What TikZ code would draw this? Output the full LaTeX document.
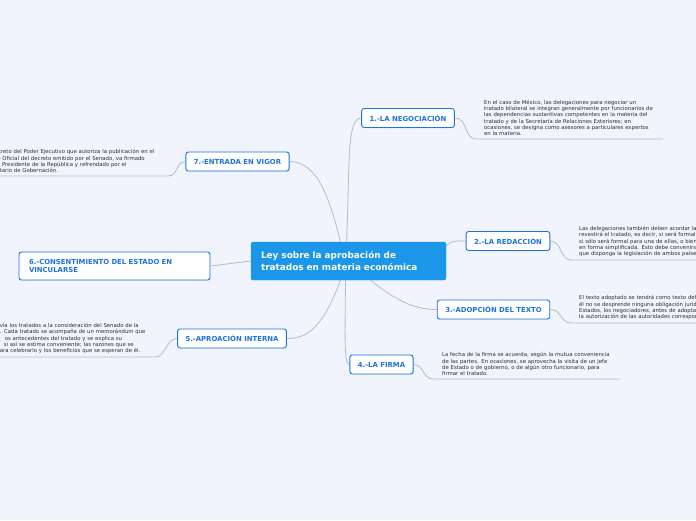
\documentclass[tikz,border=0pt]{standalone}
\usepackage{fontspec}
\setmainfont{DejaVu Sans}
\usetikzlibrary{shadows}
\definecolor{bgpale}{RGB}{241,244,252}
\definecolor{hubblue}{RGB}{27,150,232}
\definecolor{topicblue}{RGB}{28,116,222}
\definecolor{linkgray}{RGB}{184,186,196}
\definecolor{notetext}{RGB}{45,45,55}

\begin{document}
\begin{tikzpicture}[x=1pt,y=-1pt,
    hub/.style={draw=hubblue,fill=hubblue,rounded corners=2pt,text=white,font=\fontsize{8.9}{11.2}\selectfont\bfseries,text width=175pt,align=left,inner xsep=10pt,minimum height=38pt},
    topic/.style={draw=topicblue,line width=0.9pt,fill=white,rounded corners=2.5pt,text=topicblue,font=\fontsize{6.9}{8.4}\selectfont\bfseries,minimum height=19pt,inner xsep=8pt,drop shadow={opacity=0.12,shadow xshift=0.4pt,shadow yshift=-0.9pt}},
    note/.style={text=notetext,font=\fontsize{5.35}{6.3}\selectfont,align=left,inner xsep=8pt,inner ysep=3pt},
    link/.style={draw=linkgray,line width=0.8pt}]
        \fill[bgpale] (0,0) rectangle (696,520);
        \useasboundingbox (0,0) rectangle (696,520);
        % centro
        \node[hub] (ley) at (348.5,261) {Ley sobre la aprobación de\\tratados en materia económica};
        % ramas
        \node[topic] (neg) at (408,118) {1.-LA NEGOCIACIÓN};
        \node[topic] (red) at (508,241) {2.-LA REDACCIÓN};
        \node[topic] (ado) at (493.5,309.5) {3.-ADOPCIÓN DEL TEXTO};
        \node[topic] (fir) at (381.5,364.5) {4.-LA FIRMA};
        \node[topic] (apr) at (232,338.5) {5.-APROACIÓN INTERNA};
        \node[topic,text width=171pt,align=left,inner xsep=10pt,minimum height=28pt] (con) at (114.5,266) {6.-CONSENTIMIENTO DEL ESTADO EN\\VINCULARSE};
        \node[topic] (vig) at (237.5,161.5) {7.-ENTRADA EN VIGOR};
        % notas
        \node[note,anchor=south west,text width=171pt] (tneg) at (476,139) {En el caso de México, las delegaciones para negociar un\\tratado bilateral se integran generalmente por funcionarios de\\las dependencias sustantivas competentes en la materia del\\tratado y de la Secretaría de Relaciones Exteriores; en\\ocasiones, se designa como asesores a particulares expertos\\en la materia.};
        \node[note,anchor=south west,text width=190pt] (tred) at (571,260) {Las delegaciones también deben acordar la forma que\\revestirá el tratado, es decir, si será formal para ambas,\\si sólo será formal para una de ellas, o bien, si se hará\\en forma simplificada. Esto debe convenirse según lo\\que disponga la legislación de ambos países.};
        \node[note,anchor=south west,text width=190pt] (tado) at (571,323) {El texto adoptado se tendrá como texto definitivo, pero de\\él no se desprende ninguna obligación jurídica para los\\Estados, los negociadores, antes de adoptarlo, deben tener\\la autorización de las autoridades correspondientes.};
        \node[note,anchor=south west,text width=170pt] (tfir) at (434,379) {La fecha de la firma se acuerda, según la mutua conveniencia\\de las partes. En ocasiones, se aprovecha la visita de un jefe\\de Estado o de gobierno, o de algún otro funcionario, para\\firmar el tratado.};
        \node[note,anchor=south east,text width=147pt] (tapr) at (155,357) {vía los tratados a la consideración del Senado de la\\. Cada tratado se acompaña de un memorándum que\\\hspace{5pt}os antecedentes del tratado y se explica su\\\hspace{4pt}si así se estima conveniente; las razones que se\\ara celebrarlo y los beneficios que se esperan de él.};
        \node[note,anchor=south east,text width=175pt] (tvig) at (168,176) {El decreto del Poder Ejecutivo que autoriza la publicación en el\\Diario Oficial del decreto emitido por el Senado, va firmado\\por el Presidente de la República y refrendado por el\\Secretario de Gobernación.};
        % conectores del centro
        \draw[link] ([xshift=-2pt]ley.north) .. controls (350,170) and (346,118) .. (neg.west);
        \draw[link] ([xshift=-8pt]ley.north) .. controls (330,200) and (318,161.5) .. (vig.east);
        \draw[link] ([yshift=-4pt]ley.north east) .. controls (452,241) .. (red.west);
        \draw[link] ([xshift=22pt]ley.south) .. controls (400,304) and (418,309.5) .. (ado.west);
        \draw[link] ([xshift=-3pt]ley.south) .. controls (345,340) and (344,364.5) .. (fir.west);
        \draw[link] ([xshift=-8pt]ley.south) .. controls (322,330) and (306,338.5) .. (apr.east);
        \draw[link] (ley.west) -- (con.east);
        % conectores a las notas
        \draw[link] (neg.east) .. controls (468,118) and (464,139) .. (tneg.south west) -- (tneg.south east);
        \draw[link] (red.east) .. controls (562,241) and (560,260) .. (tred.south west) -- (tred.south east);
        \draw[link] (ado.east) .. controls (562,309.5) and (560,323) .. (tado.south west) -- (tado.south east);
        \draw[link] (fir.east) .. controls (424,364.5) and (422,379) .. (tfir.south west) -- (tfir.south east);
        \draw[link] (apr.west) .. controls (166,338.5) and (166,357) .. (tapr.south east) -- (tapr.south west);
        \draw[link] (vig.west) .. controls (176,161.5) and (178,176) .. (tvig.south east) -- (tvig.south west);
      \end{tikzpicture}
\end{document}
